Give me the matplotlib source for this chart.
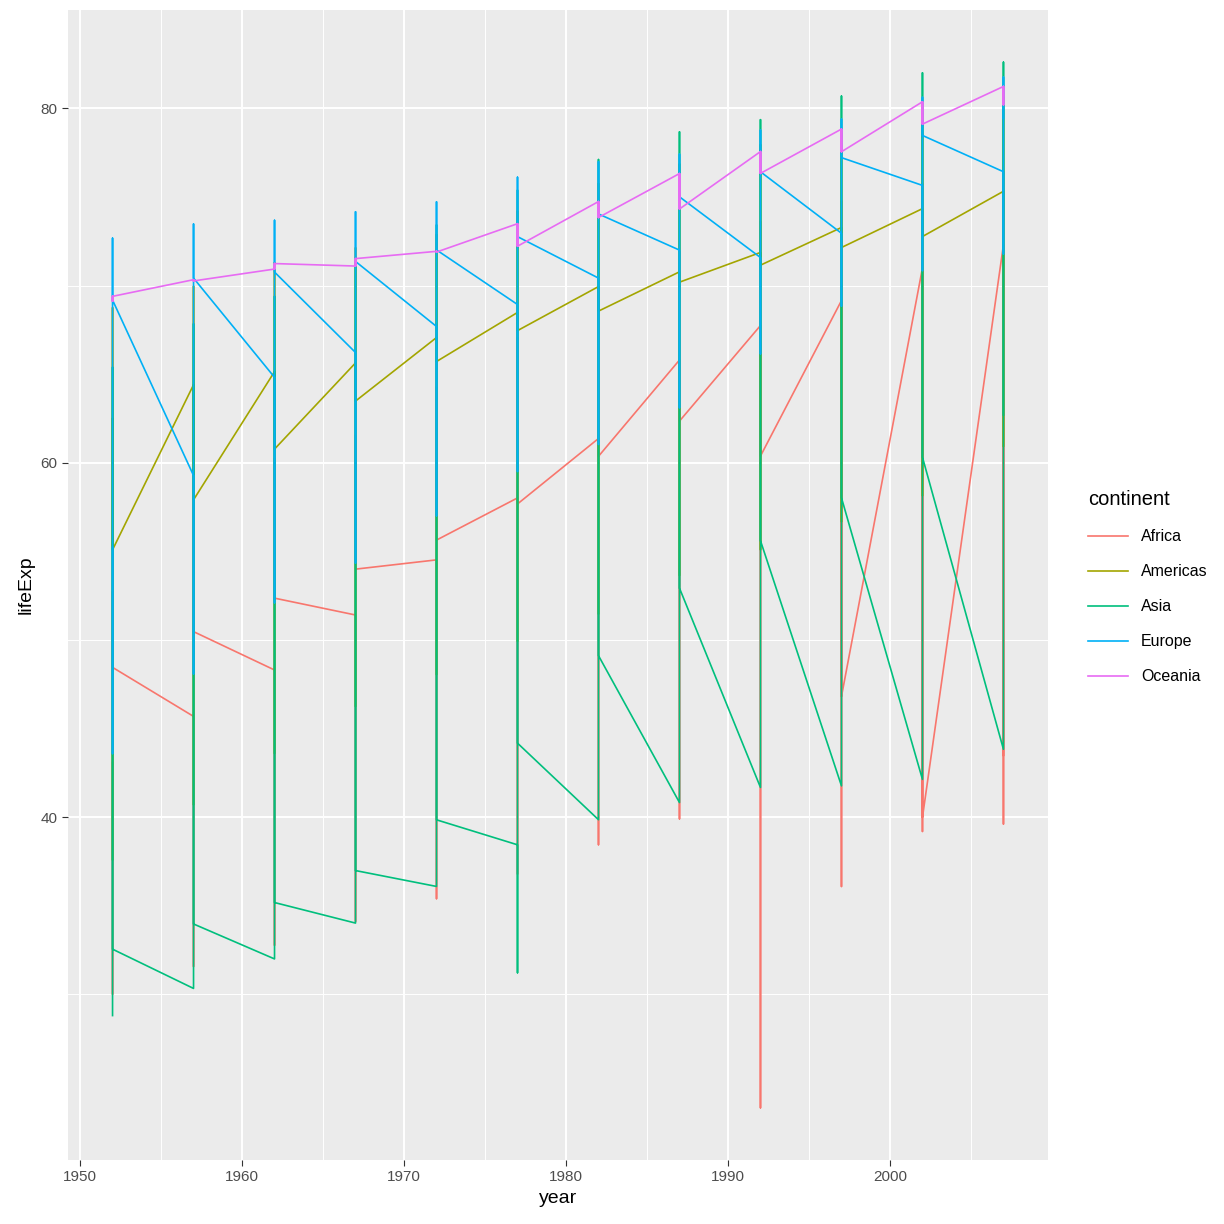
import matplotlib
matplotlib.use("Agg")
import matplotlib.pyplot as plt
plt.rcParams["font.family"] = "Liberation Sans"

years = [1952,1957,1962,1967,1972,1977,1982,1987,1992,1997,2002,2007]
continents = ["Africa","Americas","Asia","Europe","Oceania"]
colors = ["#F8766D","#A3A500","#00BF7D","#00B0F6","#E76BF3"]

# per continent per year: first country, min, max, last country
africa_first = [43.077,45.685,48.303,51.407,54.518,58.014,61.368,65.799,67.744,69.152,70.994,72.301]
africa_min = [30.0,31.57,32.767,34.113,35.4,36.788,38.445,39.906,23.599,36.087,39.193,39.613]
africa_max = [52.724,58.089,60.246,61.557,64.274,67.064,69.885,71.913,73.615,74.772,75.744,76.442]
africa_last = [48.451,50.469,52.358,53.995,55.635,57.674,60.363,62.351,60.377,46.809,39.989,43.487]

americas_first = [62.485,64.399,65.142,65.634,67.065,68.481,69.942,70.774,71.868,73.275,74.34,75.32]
americas_min = [37.579,40.696,43.59,46.243,48.042,49.923,51.461,53.636,55.089,56.671,58.137,60.916]
americas_max = [68.75,69.96,71.3,72.13,72.88,74.21,75.76,76.86,77.95,78.61,79.77,80.653]
americas_last = [55.088,57.907,60.77,63.479,65.712,67.456,68.557,70.19,71.15,72.146,72.766,73.747]

asia_first = [28.801,30.332,31.997,34.02,36.088,38.438,39.854,40.822,41.674,41.763,42.129,43.828]
asia_min = [28.801,30.332,31.997,34.02,36.088,31.22,39.854,40.822,41.674,41.763,42.129,43.828]
asia_max = [65.39,67.84,69.39,71.43,73.42,75.38,77.11,78.67,79.36,80.69,82.0,82.603]
asia_last = [32.548,33.97,35.18,36.984,39.848,44.175,49.113,52.922,55.599,58.02,60.308,62.698]

europe_first = [55.23,59.28,64.82,66.22,67.69,68.93,70.42,72.0,71.581,72.95,75.651,76.423]
europe_min = [43.585,48.079,52.098,54.336,57.005,59.507,61.036,63.108,66.146,68.835,70.845,71.777]
europe_max = [72.67,73.47,73.68,74.16,74.72,76.11,76.99,77.41,78.77,79.39,80.62,81.757]
europe_last = [69.18,70.42,70.76,71.36,72.01,72.76,74.04,75.007,76.42,77.218,78.471,79.425]

oceania_first = [69.12,70.33,70.93,71.1,71.93,73.49,74.74,76.32,77.56,78.83,80.37,81.235]
oceania_last = [69.39,70.26,71.24,71.52,71.89,72.22,73.84,74.32,76.33,77.55,79.11,80.204]

series = {
    "Africa": (africa_first, africa_min, africa_max, africa_last),
    "Americas": (americas_first, americas_min, americas_max, americas_last),
    "Asia": (asia_first, asia_min, asia_max, asia_last),
    "Europe": (europe_first, europe_min, europe_max, europe_last),
    "Oceania": (oceania_first, oceania_last, oceania_first, oceania_last),
}

fig = plt.figure(figsize=(12.24, 12.24), dpi=100)
ax = fig.add_axes([68/1224, 1-1160/1224, (1048-68)/1224, (1160-10)/1224])
ax.set_facecolor("#EBEBEB")
for c, col in zip(continents, colors):
    f, mn, mx, la = series[c]
    xs, ys = [], []
    for i, y in enumerate(years):
        for v in (f[i], mn[i], mx[i], la[i]):
            xs.append(y); ys.append(v)
    ax.plot(xs, ys, color=col, lw=1.2, label=c)

ax.set_xlim(1949.25, 2009.75)
ax.set_ylim(20.65, 85.55)
ax.set_xticks([1950,1960,1970,1980,1990,2000])
ax.set_xticks([1955,1965,1975,1985,1995,2005], minor=True)
ax.set_yticks([40,60,80])
ax.set_yticks([30,50,70], minor=True)
ax.grid(True, which="major", color="white", lw=1.4)
ax.grid(True, which="minor", color="white", lw=0.7)
ax.set_axisbelow(True)
for s in ax.spines.values():
    s.set_visible(False)
ax.tick_params(which="both", length=4, color="#333333", labelsize=11, labelcolor="#4D4D4D")
ax.tick_params(which="minor", length=0)
ax.set_xlabel("year", fontsize=14)
ax.set_ylabel("lifeExp", fontsize=14)
leg = fig.legend(loc="upper left", bbox_to_anchor=(1074/1224, 1-476/1224), title="continent",
                 frameon=False, fontsize=11.5, title_fontsize=14.5, handlelength=2.5,
                 labelspacing=1.25)
leg._legend_box.align = "left"
fig.savefig("out.png", dpi=100)
